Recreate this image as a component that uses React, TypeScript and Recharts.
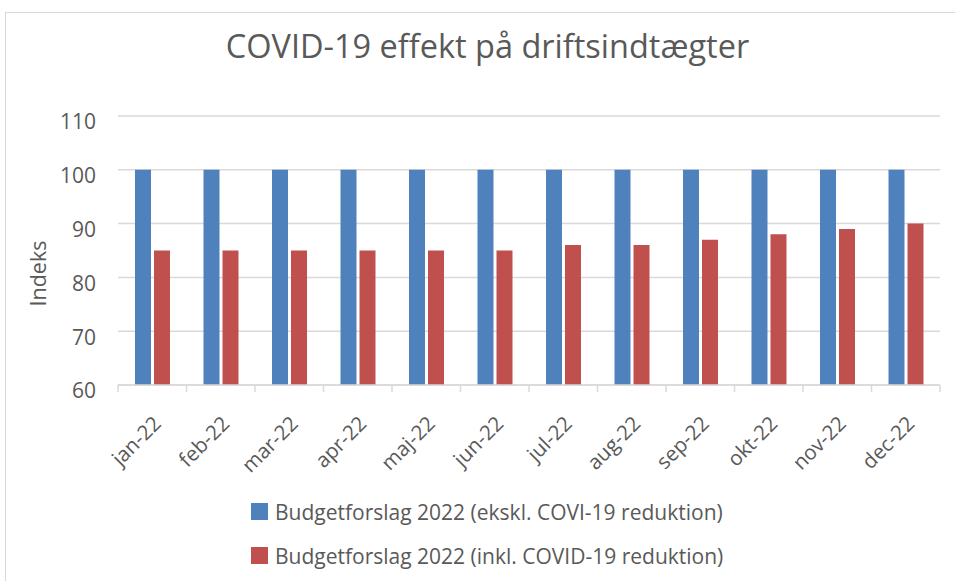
import { BarChart, Bar, XAxis, YAxis, CartesianGrid, Legend, Label } from 'recharts';

const months = ['jan-22', 'feb-22', 'mar-22', 'apr-22', 'maj-22', 'jun-22', 'jul-22', 'aug-22', 'sep-22', 'okt-22', 'nov-22', 'dec-22'];
const ekskl = [100, 100, 100, 100, 100, 100, 100, 100, 100, 100, 100, 100];
const inkl = [85, 85, 85, 85, 85, 85, 86, 86, 87, 88, 89, 90];
const yTicks = [60, 70, 80, 90, 100, 110];

const seriesNames = {
  ekskl: 'Budgetforslag 2022 (ekskl. COVI-19 reduktion)',
  inkl: 'Budgetforslag 2022 (inkl. COVID-19 reduktion)',
};

const BLUE = '#4F81BD';
const RED = '#C0504D';
const TEXT = '#595959';
const GRID = '#D9D9D9';
const FONT = '"Open Sans", Lato, sans-serif';

const W = 955;
const H = 581;
const MARGIN = { top: 116, right: 15, left: 0, bottom: 16 };
const Y_AXIS_W = 118;
const BAND = (W - MARGIN.left - MARGIN.right - Y_AXIS_W) / months.length;

const data = months.map((m, i) => ({ month: m, ekskl: ekskl[i], inkl: inkl[i] }));

// Excel style: tick marks between categories, labels slanted 45deg
const MonthTick = ({ x, y, payload, index }: any) => {
  const tx = x + 10;
  const ty = y + 40;
  const half = BAND / 2;
  return (
    <g>
      <line x1={x - half} y1={y} x2={x - half} y2={y + 7} stroke={GRID} strokeWidth={1.5} />
      {index === months.length - 1 && (
        <line x1={x + half} y1={y} x2={x + half} y2={y + 7} stroke={GRID} strokeWidth={1.5} />
      )}
      <text
        x={tx}
        y={ty}
        textAnchor="end"
        transform={`rotate(-45, ${tx}, ${ty})`}
        fill={TEXT}
        fontSize={20.5}
        fontFamily={FONT}
      >
        {payload.value}
      </text>
    </g>
  );
};

const LegendBox = () => (
  <div style={{ fontFamily: FONT, fontSize: 21, color: TEXT }}>
    {[{ c: BLUE, t: seriesNames.ekskl }, { c: RED, t: seriesNames.inkl }].map((it, i) => (
      <div key={i} style={{ display: 'flex', alignItems: 'center', height: 37, marginBottom: 7, whiteSpace: 'nowrap' }}>
        <span style={{ display: 'inline-block', width: 17, height: 17, background: it.c, marginRight: 7 }} />
        <span>{it.t}</span>
      </div>
    ))}
  </div>
);

export default function App() {
  return (
    <div style={{ position: 'absolute', left: 0, top: 0, width: W, height: H, overflow: 'hidden', background: '#fff' }}>
      <div style={{ position: 'absolute', left: 5, top: 12, width: 965, height: 700, border: `1px solid ${GRID}` }} />
      <div
        style={{
          position: 'absolute', left: 0, top: 31, width: 975, textAlign: 'center',
          fontFamily: FONT, fontSize: 32.5, lineHeight: '30px', color: TEXT,
        }}
      >
        COVID-19 effekt på driftsindtægter
      </div>
      <div style={{ position: 'absolute', left: 0, top: 0 }}>
        <BarChart width={W} height={H} data={data} margin={MARGIN} barSize={16} barGap={3}>
          <CartesianGrid vertical={false} stroke={GRID} strokeWidth={1.5} />
          <XAxis
            dataKey="month"
            interval={0}
            height={100}
            tickSize={0}
            tickMargin={0}
            tickLine={false}
            axisLine={{ stroke: GRID, strokeWidth: 1.5 }}
            tick={<MonthTick />}
          />
          <YAxis
            domain={[60, 110]}
            ticks={yTicks}
            width={Y_AXIS_W}
            axisLine={false}
            tickLine={false}
            tickSize={0}
            tickMargin={22}
            tick={{ fill: TEXT, fontSize: 21, fontFamily: FONT, dy: 6 }}
          >
            <Label
              value="Indeks"
              angle={-90}
              position="center"
              dx={-21}
              dy={23}
              fill={TEXT}
              fontSize={21.5}
              fontFamily={FONT}
            />
          </YAxis>
          <Legend
            content={<LegendBox />}
            verticalAlign="bottom"
            height={80}
            wrapperStyle={{ left: 251, top: 493, bottom: 'auto', width: 600, height: 80 }}
          />
          <Bar dataKey="ekskl" name={seriesNames.ekskl} fill={BLUE} isAnimationActive={false} />
          <Bar dataKey="inkl" name={seriesNames.inkl} fill={RED} isAnimationActive={false} />
        </BarChart>
      </div>
    </div>
  );
}
